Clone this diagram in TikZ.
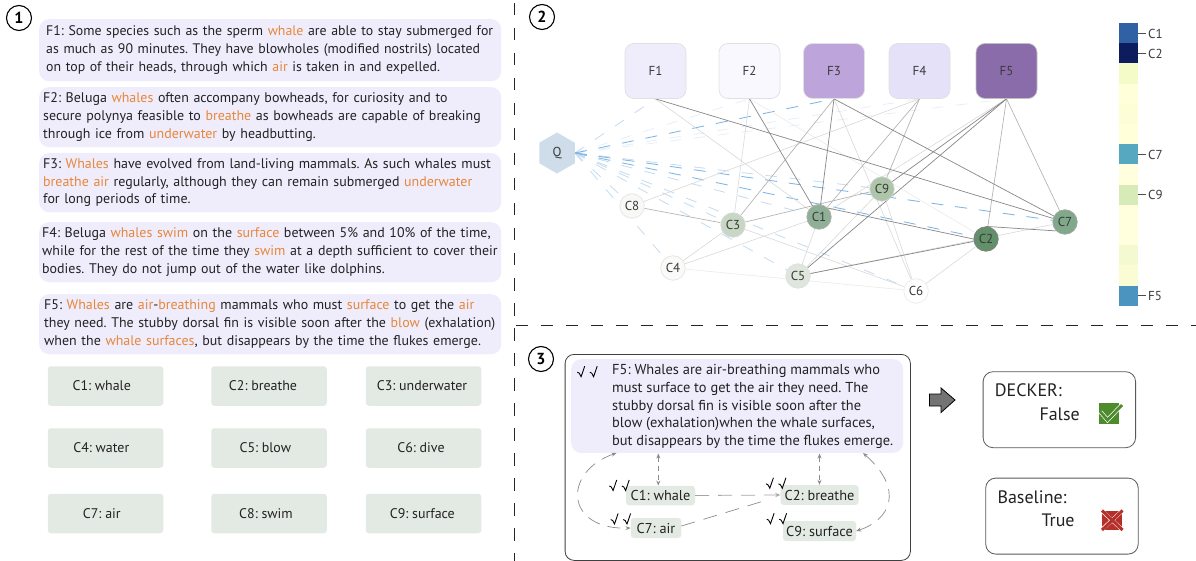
\documentclass[tikz,border=0pt]{standalone}
\usepackage{fontspec}
\setmainfont{PT Sans}
\usetikzlibrary{shapes.geometric,arrows.meta,backgrounds,calc}
\definecolor{orangew}{HTML}{E8863A}
\definecolor{factbg}{HTML}{EFEDFC}
\definecolor{chipbg}{HTML}{E3EAE3}
\definecolor{inkc}{HTML}{222222}
\definecolor{labc}{HTML}{3A3A3A}
\definecolor{bluedash}{HTML}{7DB6E6}
\definecolor{paledash}{HTML}{C4DBF0}
\definecolor{faintdash}{HTML}{E4EEF8}
\definecolor{checkg}{RGB}{77,139,45}
\definecolor{crossr}{RGB}{181,48,42}
\newcommand{\og}[1]{\textcolor{orangew}{#1}}
\newcommand{\chiptxt}[2]{#2\hspace*{#1pt}}
\frenchspacing
\tikzset{
  x=1pt,y=-1pt,
  factbox/.style={rounded corners=10pt,fill=factbg,anchor=north west,inner ysep=0pt,align=left,text=inkc,
    font=\fontsize{13.95}{17.7}\selectfont},
  chipbox/.style={rounded corners=3pt,fill=chipbg,minimum width=115.5pt,minimum height=39.5pt,inner sep=0pt,text=inkc,
    font=\fontsize{13.95}{16}\selectfont},
  numcirc/.style={circle,draw=black,line width=1.1pt,minimum size=25pt,inner sep=0pt,font=\fontsize{16}{16}\selectfont\bfseries},
  fnode/.style={rounded corners=9pt,draw=black!12,line width=.7pt,minimum width=61pt,minimum height=55pt,inner sep=0pt,text=labc,
    font=\fontsize{13}{15}\selectfont},
  cnode/.style={circle,draw=#1,line width=.7pt,minimum size=24.5pt,inner sep=0pt,text=labc,font=\fontsize{13}{15}\selectfont},
  edark/.style={draw=black!47,line width=.7pt},
  emid/.style={draw=black!30,line width=.65pt},
  elight/.style={draw=black!15,line width=.6pt},
  efaint/.style={draw=black!8,line width=.6pt},
  qblue/.style={draw=bluedash,line width=.85pt,dash pattern=on 12pt off 12pt},
  qpale/.style={draw=paledash,line width=.8pt,dash pattern=on 11pt off 13pt},
  qfaint/.style={draw=faintdash,line width=.7pt,dash pattern=on 11pt off 13pt},
  barlab/.style={anchor=west,inner sep=0pt,text=labc,font=\fontsize{13}{15}\selectfont},
  divider/.style={draw=black!85,line width=1pt,dash pattern=on 12.5pt off 12.5pt},
  chipsmall/.style={rounded corners=3pt,fill=chipbg,inner sep=0pt,text=inkc,font=\fontsize{14.3}{16}\selectfont},
  resbox/.style={rounded corners=10pt,draw=black!65,line width=.8pt,minimum width=152.5pt,minimum height=76pt,inner sep=0pt},
  restext/.style={anchor=base west,inner sep=0pt,text=inkc,font=\fontsize{18}{20}\selectfont},
  flowboth/.style={draw=black!45,line width=.7pt,dash pattern=on 5pt off 4pt,{Stealth[length=5pt,width=4pt]}-{Stealth[length=5pt,width=4pt]}},
  flowlong/.style={draw=black!35,line width=.8pt,dash pattern=on 14pt off 9pt},
  tickmark/.style={draw=black,line width=.9pt,line join=miter}
}
% double tick drawn from a top-left corner
\newcommand{\dbltick}[2]{%
  \draw[tickmark] (#1,#2+6.5) -- ++(2,1) -- ++(1.8,3.5) -- ++(3.6,-10.5);
  \draw[tickmark] (#1+12.5,#2+6.5) -- ++(2,1) -- ++(1.8,3.5) -- ++(3.6,-10.5);}
\begin{document}
\begin{tikzpicture}
\useasboundingbox (0,0) rectangle (1196,561);
\begin{pgfonlayer}{background}
\fill[white] (0,0) rectangle (1196,561);
\end{pgfonlayer}

% dividers
\coordinate (vtop) at (514,3);
\coordinate (vbot) at (514,561);
\coordinate (hleft) at (515.5,325);
\coordinate (hright) at (1196,325);
\draw[divider] (vtop) -- (vbot);
\draw[divider] (hleft) -- (hright);

% section numbers
\node[numcirc] (n1) at (19,18) {1};
\node[numcirc] (n2) at (542,17) {2};
\node[numcirc] (n3) at (541,359) {3};

% panel 1 facts
\node[factbox,font=\fontsize{13.85}{17.7}\selectfont,inner xsep=7pt,text width=448pt,minimum width=462pt,minimum height=62pt] (t1) at (39,19) {F1: Some species such as the sperm \og{whale} are able to stay submerged for\\as much as 90 minutes. They have blowholes (modified nostrils) located\\on top of their heads, through which \og{air} is taken in and expelled.};
\node[factbox,inner xsep=4pt,text width=454pt,minimum width=462pt,minimum height=60pt] (t2) at (39,87) {F2: Beluga \og{whales} often accompany bowheads, for curiosity and to\\secure polynya feasible to \og{breathe} as bowheads are capable of breaking\\through ice from \og{underwater} by headbutting.};
\node[factbox,inner xsep=4pt,text width=454pt,minimum width=462pt,minimum height=59pt] (t3) at (39,153) {F3: \og{Whales} have evolved from land-living mammals. As such whales must\\\og{breathe air} regularly, although they can remain submerged \og{underwater}\\for long periods of time.};
\node[factbox,inner xsep=3pt,text width=456pt,minimum width=462pt,minimum height=60pt] (t4) at (39,222) {F4: Beluga \og{whales swim} on the \og{surface} between 5\% and 10\% of the time,\\while for the rest of the time they \og{swim} at a depth sufficient to cover their\\bodies. They do not jump out of the water like dolphins.};
\node[factbox,inner xsep=5pt,text width=452pt,minimum width=462pt,minimum height=60pt] (t5) at (39,294) {F5: \og{Whales} are \og{air}-\og{breathing} mammals who must \og{surface} to get the \og{air}\\they need. The stubby dorsal fin is visible soon after the \og{blow} (exhalation)\\when the \og{whale surfaces}, but disappears by the time the flukes emerge.};

% panel 1 concepts
\node[chipbox] (k1) at (105.5,386) {\chiptxt{7.6}{C1: whale}};
\node[chipbox] (k2) at (269,386) {\chiptxt{12}{C2: breathe}};
\node[chipbox] (k3) at (423.5,386) {\chiptxt{3}{C3: underwater}};
\node[chipbox] (k4) at (105.5,448) {\chiptxt{8.4}{C4: water}};
\node[chipbox] (k5) at (269,448) {\chiptxt{7.4}{C5: blow}};
\node[chipbox] (k6) at (423.5,448) {\chiptxt{5}{C6: dive}};
\node[chipbox] (k7) at (105.5,513.5) {\chiptxt{7.4}{C7: air}};
\node[chipbox] (k8) at (269,513.5) {\chiptxt{6}{C8: swim}};
\node[chipbox] (k9) at (423.5,513.5) {\chiptxt{2.4}{C9: surface}};

% panel 2 graph nodes
\node[fnode,fill={rgb,255:red,239;green,237;blue,251}] (F1) at (655.5,71) {F1};
\node[fnode,fill={rgb,255:red,249;green,248;blue,254}] (F2) at (749.5,71) {F2};
\node[fnode,fill={rgb,255:red,189;green,165;blue,220}] (F3) at (834,71) {F3};
\node[fnode,fill={rgb,255:red,229;green,225;blue,249}] (F4) at (919.5,71) {F4};
\node[fnode,draw=black!25,fill={rgb,255:red,139;green,108;blue,171}] (F5) at (1006.5,71) {F5};
\node[regular polygon,regular polygon sides=6,shape border rotate=30,minimum size=41pt,inner sep=0pt,fill={rgb,255:red,207;green,221;blue,234},text=labc,font=\fontsize{13}{15}\selectfont] (Q) at (557,153) {Q};
\node[cnode=black!30,fill={rgb,255:red,143;green,176;blue,150}] (C1) at (819,217) {C1};
\node[cnode=black!50,fill={rgb,255:red,98;green,144;blue,105}] (C2) at (986,239) {C2};
\node[cnode=black!15,fill={rgb,255:red,200;green,214;blue,196}] (C3) at (733,225) {C3};
\node[cnode=black!10,fill={rgb,255:red,250;green,250;blue,249}] (C4) at (673,268) {C4};
\node[cnode=black!12,fill={rgb,255:red,223;green,230;blue,220}] (C5) at (798,276) {C5};
\node[cnode=black!8,fill=white] (C6) at (916,291) {C6};
\node[cnode=black!35,fill={rgb,255:red,127;green,169;blue,138}] (C7) at (1065,222) {C7};
\node[cnode=black!10,fill={rgb,255:red,248;green,249;blue,247}] (C8) at (632,206) {C8};
\node[cnode=black!15,fill={rgb,255:red,173;green,197;blue,169}] (C9) at (882,189) {C9};

\begin{pgfonlayer}{background}
% query links
\draw[qfaint] (Q.east) -- (F2.south);
\draw[qfaint] (Q.east) -- (F4.south);
\draw[qfaint] (Q.east) -- (F5.south);
\draw[qpale] (Q.east) -- (F1.south);
\foreach \t in {C1,C3,C4,C5,C6,C8,C9}{\draw[qpale] (Q.east) -- (\t);}
\draw[qblue] (Q.east) -- (F3.south);
\draw[qblue] (Q.east) -- (C2);
\draw[qblue] (Q.east) -- (C7);
% graph links
\draw[efaint] (F2.south) -- (C2);
\draw[efaint] (C4) -- (C6);
\foreach \a/\b in {F1.south/C1,F2.south/C3,F3.south/C6,F4.south/C8,F5.south/C1,C3/C4,C1/C4,C1/C5,C5/C7,C5/C9,C3/C6,C2/C6,C9/C6}{\draw[elight] (\a) -- (\b);}
\foreach \a/\b in {F3.south/C3,F4.south/C9,F4.south/C1,F5.south/C2,F5.south/C7,C3/C8,C3/C9}{\draw[emid] (\a) -- (\b);}
\foreach \a/\b in {F1.south/C7,F2.south/C1,F3.south/C1,F3.south/C7,F5.south/C9,F5.south/C5,C1.north east/C2.west,C5/C2,C2.north/C7.south west}{\draw[edark] (\a) -- (\b);}
\end{pgfonlayer}

% colour bar
\foreach \i/\c in {0/3161A5,1/0C1C5C,2/F4FAC8,3/FFFFD9,4/FDFED6,5/FFFFD9,6/56A8C0,7/FFFFDD,8/D7EBB8,9/FFFFDD,10/FFFFDD,11/F4F9CF,12/FAFCD4,13/4B94BF}{
  \definecolor{seg}{HTML}{\c}
  \fill[seg] (1119,23+\i*20.2) rectangle (1138,23+\i*20.2+20.4);
}
\foreach \i/\l in {0/C1,1/C2,6/C7,8/C9,13/F5}{
  \draw[black!70,line width=.7pt] (1138,33.1+\i*20.2) -- (1146,33.1+\i*20.2);
  \node[barlab] (bar\l) at (1148,33.6+\i*20.2) {\l};
}

% panel 3
\node[rounded corners=9pt,draw=black!75,line width=.8pt,minimum width=345.3pt,minimum height=206pt,anchor=north west,inner sep=0pt] (frame) at (564.7,354) {};
\node[rounded corners=10pt,fill=factbg,anchor=north west,inner sep=0pt,minimum width=332pt,minimum height=93.7pt] (ft) at (571,359) {};
\node[anchor=north west,inner sep=0pt,align=left,text=inkc,font=\fontsize{14.4}{17.7}\selectfont] (fttext) at (612,364.3) {F5: Whales are air-breathing mammals who\\must surface to get the air they need. The\\stubby dorsal fin is visible soon after the\\blow (exhalation)when the whale surfaces,\\but disappears by the time the flukes emerge.};
\node[chipsmall,minimum width=69pt,minimum height=19.5pt] (s1) at (660.5,495.5) {C1: whale};
\node[chipsmall,minimum width=50.5pt,minimum height=20pt] (s7) at (656,528) {C7: air};
\node[chipsmall,minimum width=78pt,minimum height=20pt] (s2) at (819.5,495) {C2: breathe};
\node[chipsmall,minimum width=73pt,minimum height=20pt] (s9) at (819.5,531) {C9: surface};

\dbltick{577.3}{365.7}
\dbltick{609.3}{479.5}
\dbltick{610.7}{513}
\dbltick{766}{477.3}
\dbltick{766.7}{512.7}

\coordinate (a1) at (658.3,453.5);
\coordinate (a2) at (819.5,453.5);
\coordinate (a3) at (616.5,453);
\coordinate (a4) at (863,453);
\draw[flowboth] (a1) -- (s1.north -| a1);
\draw[flowboth] (a2) -- (s2.north -| a2);
\draw[flowlong,-{Stealth[length=5pt,width=4pt]}] (s1.east) -- (s2.west);
\draw[flowlong,draw=black!45,line width=.7pt] (s7.east) ++(0,-2) -- (767,500);
\draw[flowboth,dash pattern=on 13pt off 8pt] (a3) .. controls (562,472) and (565,530) .. (s7.west);
\draw[flowboth,dash pattern=on 13pt off 8pt] (a4) .. controls (905,490) and (890,520) .. (s9.east);

% verdict arrow
\fill[black!55,draw=black,line width=.8pt] (929.5,394) -- (941,394) -- (941,388) -- (955,400) -- (941,412.5) -- (941,406) -- (929.5,406) -- cycle;

% results
\node[resbox,anchor=north west] (r1) at (982.7,371.3) {};
\node[resbox,anchor=north west] (r2) at (985.3,477.7) {};
\node[restext] (r1a) at (994.7,396) {DECKER:};
\node[restext] (r1b) at (1039.3,420) {False};
\node[restext] (r2a) at (997.3,503.3) {Baseline:};
\node[restext] (r2b) at (1041.3,526.7) {True};

% check icon
\fill[checkg] (1098.5,402.7) rectangle (1119,424.3);
\draw[white,line width=4.2pt,line join=miter] (1100.5,412) -- (1107.5,420) -- (1122,405);
\draw[checkg,line width=2.8pt,line join=miter] (1100.5,412) -- (1107.5,420) -- (1122,405);
% cross icon
\fill[crossr] (1102,511) rectangle (1122,529.5);
\draw[white,line width=3.8pt] (1102,511) -- (1122,529.5) (1122,511) -- (1102,529.5);
\draw[crossr,line width=3pt] (1102,510.5) -- (1122.5,530) (1122.5,510.5) -- (1102,530);
\end{tikzpicture}
\end{document}
